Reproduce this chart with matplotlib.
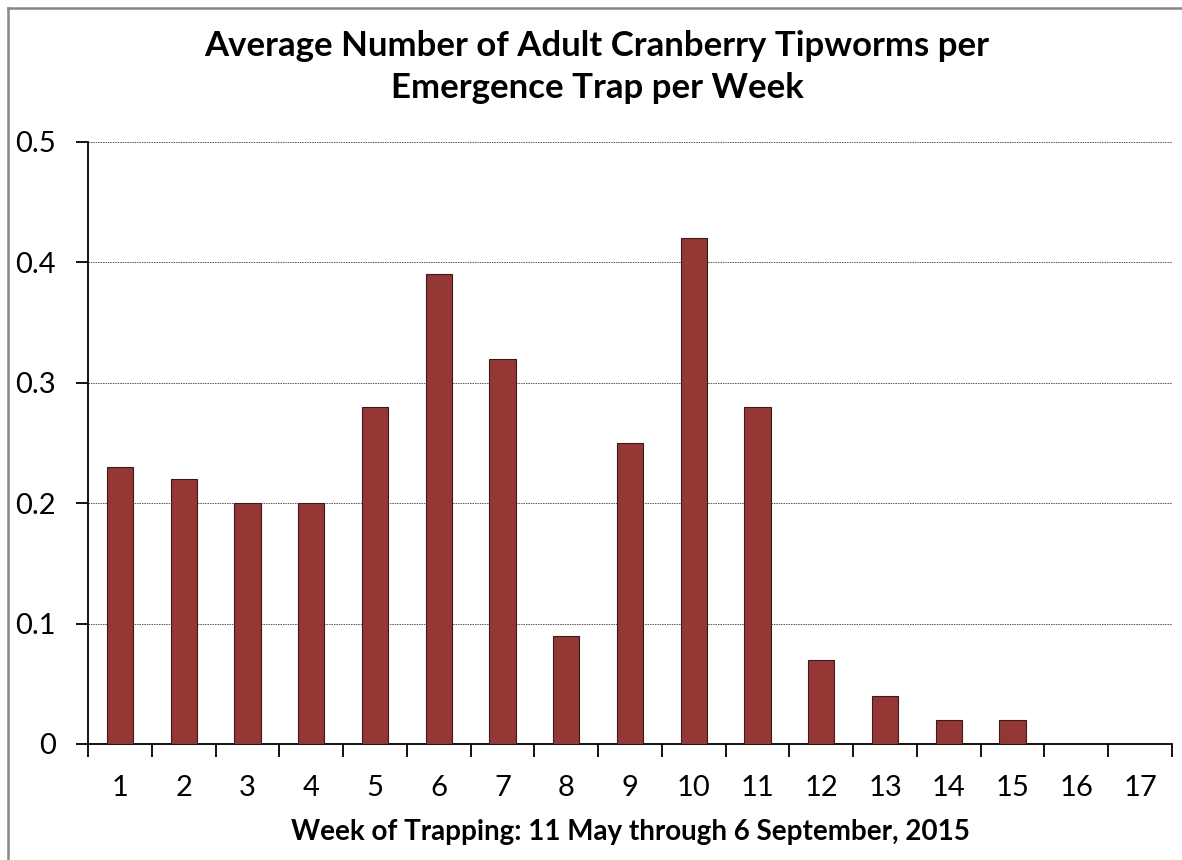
import matplotlib
matplotlib.use("Agg")
import matplotlib.pyplot as plt
from matplotlib.lines import Line2D
import numpy as np

weeks = [str(i) for i in range(1, 18)]
avg_tipworms = [0.23, 0.22, 0.20, 0.20, 0.28, 0.39, 0.32, 0.09, 0.25,
                0.42, 0.28, 0.07, 0.04, 0.02, 0.02, 0.0, 0.0]
y_ticks = [0, 0.1, 0.2, 0.3, 0.4, 0.5]
y_labels = ["0", "0.1", "0.2", "0.3", "0.4", "0.5"]

plt.rcParams['font.family'] = ['Lato', 'DejaVu Sans']

fig = plt.figure(figsize=(11.82, 8.60), dpi=100)
ax = fig.add_axes([0.0745, 0.1349, 0.917, 0.700])

x = np.arange(len(weeks))
ax.bar(x, avg_tipworms, width=0.41, color="#953735", edgecolor="#3a1a1a",
       linewidth=0.8, zorder=3)

ax.set_xlim(-0.5, len(weeks) - 0.5)
ax.set_ylim(0, 0.5)
ax.set_yticks(y_ticks)
ax.set_yticklabels(y_labels, fontsize=21)
ax.yaxis.grid(True, linestyle=(0, (1.5, 1.0)), color="#555555", linewidth=0.7, zorder=0)

# category labels centred, tick marks on the category boundaries
ax.set_xticks(x)
ax.set_xticklabels(weeks, fontsize=21)
ax.tick_params(axis="x", which="major", length=0, pad=22)
ax.set_xticks(np.arange(-0.5, len(weeks)), minor=True)
ax.tick_params(axis="x", which="minor", length=9, width=1.3, direction="out")
ax.tick_params(axis="y", length=9, width=1.3, direction="out", pad=14)

for s in ["top", "right"]:
    ax.spines[s].set_visible(False)
for s in ["left", "bottom"]:
    ax.spines[s].set_linewidth(1.3)

ax.set_xlabel("Week of Trapping: 11 May through 6 September, 2015",
              fontsize=20, fontweight="bold", labelpad=13)

fig.text(0.505, 0.922, "Average Number of Adult Cranberry Tipworms per\nEmergence Trap per Week",
         ha="center", va="center", fontsize=25, fontweight="bold", linespacing=1.38)

# chart frame (top and left edges visible)
fig.add_artist(Line2D([7.5 / 1182, 1.0], [1 - 7.5 / 860, 1 - 7.5 / 860],
                      transform=fig.transFigure, color="#888888", linewidth=1.8))
fig.add_artist(Line2D([7.5 / 1182, 7.5 / 1182], [0.0, 1 - 7.5 / 860],
                      transform=fig.transFigure, color="#888888", linewidth=1.8))

fig.savefig("out.png", dpi=100)
